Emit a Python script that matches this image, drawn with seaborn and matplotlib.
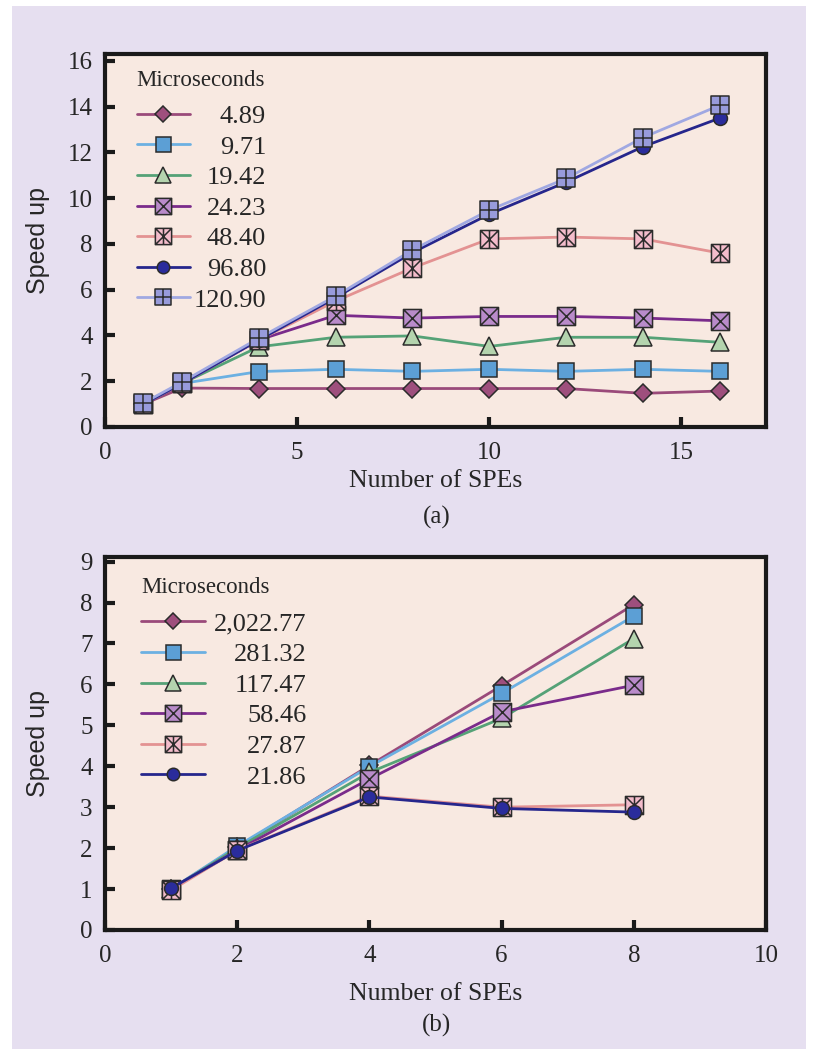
import matplotlib
matplotlib.use('Agg')
import matplotlib.pyplot as plt
import seaborn as sns
from matplotlib.path import Path
from matplotlib.patches import Rectangle

sns.set_theme(style='ticks')
plt.rcParams['font.family'] = ['Liberation Serif', 'DejaVu Serif']

# --- data ---
spe_a = [1, 2, 4, 6, 8, 10, 12, 14, 16]
labels_a = ['4.89', '9.71', '19.42', '24.23', '48.40', '96.80', '120.90']
speed_a = [
    [1.0, 1.7, 1.68, 1.68, 1.68, 1.68, 1.68, 1.47, 1.57],
    [1.0, 1.9, 2.42, 2.52, 2.43, 2.52, 2.43, 2.52, 2.43],
    [1.0, 1.9, 3.5, 3.92, 3.98, 3.52, 3.92, 3.92, 3.7],
    [1.0, 1.9, 3.8, 4.88, 4.76, 4.83, 4.83, 4.76, 4.64],
    [1.0, 1.9, 3.8, 5.5, 6.95, 8.22, 8.3, 8.22, 7.6],
    [1.0, 1.9, 3.8, 5.65, 7.62, 9.3, 10.7, 12.25, 13.5],
    [1.05, 1.96, 3.88, 5.72, 7.73, 9.48, 10.86, 12.65, 14.06],
]

spe_b = [1, 2, 4, 6, 8]
labels_b = ['2,022.77', '281.32', '117.47', '58.46', '27.87', '21.86']
speed_b = [
    [1.0, 2.02, 4.02, 5.97, 7.95],
    [1.0, 2.05, 3.99, 5.78, 7.67],
    [1.0, 2.0, 3.85, 5.17, 7.12],
    [1.0, 1.95, 3.69, 5.33, 5.98],
    [0.97, 1.95, 3.27, 3.0, 3.06],
    [1.02, 1.94, 3.25, 2.97, 2.88],
]


# square markers with inner strokes
def box_marker(*strokes):
    verts = [(-1, -1), (1, -1), (1, 1), (-1, 1), (-1, -1)]
    codes = [Path.MOVETO] + [Path.LINETO] * 3 + [Path.CLOSEPOLY]
    for a, b in strokes:
        verts += [a, b]
        codes += [Path.MOVETO, Path.LINETO]
    return Path(verts, codes)


sq_x = box_marker(((-1, -1), (1, 1)), ((-1, 1), (1, -1)))
sq_star = box_marker(((-1, -1), (1, 1)), ((-1, 1), (1, -1)), ((0, -1), (0, 1)))
sq_plus = box_marker(((-1, 0), (1, 0)), ((0, -1), (0, 1)))

# (line colour, fill colour, marker, size)
styles = [
    ('#9a4a7a', '#9e4f7d', 'D', 9.5),
    ('#6cb0e2', '#5c9fd5', 's', 12),
    ('#55a277', '#b4d4ae', '^', 13),
    ('#7a2b8b', '#b98bca', sq_x, 13),
    ('#e39292', '#f3bccb', sq_star, 13),
    ('#26268c', '#2a2c9c', 'o', 10),
    ('#a0a8e2', '#989bdb', sq_plus, 13),
]
styles_b = styles[:5] + [styles[5]]

fig = plt.figure(figsize=(8.16, 10.55), dpi=100)
fig.patch.set_facecolor('white')
fig.patches.append(Rectangle((12 / 816, 1 - 1049 / 1055), 794 / 816, 1043 / 1055,
                             transform=fig.transFigure, facecolor='#e6dff0',
                             edgecolor='none', zorder=-10))

ax_a = fig.add_axes([0.1287, 0.5953, 0.81, 0.3535])
ax_b = fig.add_axes([0.1287, 0.1185, 0.81, 0.3538])


def draw_panel(ax, x, series, labels, sty, xpad, hlen, hpad):
    for y, lab, (lc, fc, mk, ms) in zip(series, labels, sty):
        sns.lineplot(x=x, y=y, ax=ax, color=lc, linewidth=2.0, marker=mk,
                     markersize=ms, markerfacecolor=fc, markeredgecolor='#2b2b2b',
                     mew=1.1, label=lab)
    ax.set_facecolor('#f8e9e1')
    for s in ax.spines.values():
        s.set_linewidth(3)
        s.set_color('#1a1a1a')
    ax.tick_params(axis='both', direction='in', length=7, width=3,
                   labelsize=18, top=False, right=False, color='#1a1a1a')
    ax.tick_params(axis='y', pad=9)
    ax.tick_params(axis='x', pad=11)
    ax.set_xlabel('Number of SPEs', fontsize=18.5, labelpad=xpad)
    ax.set_ylabel('Speed up', fontsize=18, family='Liberation Sans')
    ax.yaxis.set_label_coords(-0.083, 0.5)

    leg = ax.legend(title='Microseconds', loc='upper left', frameon=False,
                    fontsize=19, title_fontsize=16.5, alignment='left',
                    borderpad=0, borderaxespad=0, labelspacing=0.27,
                    handlelength=hlen, handletextpad=hpad, markerscale=0.9)
    # a bit more room between the title and the entries
    leg._legend_box.sep = 10
    return leg


leg_a = draw_panel(ax_a, spe_a, speed_a, labels_a, styles, 4, 2.0, 0.15)
ax_a.set_xlim(0, 17.2)
ax_a.set_ylim(0, 16.3)
ax_a.set_xticks([0, 5, 10, 15])
ax_a.set_yticks(range(0, 17, 2))
leg_a.set_bbox_to_anchor((0.048, 0.958), transform=ax_a.transAxes)

leg_b = draw_panel(ax_b, spe_b, speed_b, labels_b, styles_b, 11, 2.4, 0.35)
ax_b.set_xlim(0, 10)
ax_b.set_ylim(0, 9.12)
ax_b.set_xticks(range(0, 11, 2))
ax_b.set_yticks(range(0, 10))
leg_b.set_bbox_to_anchor((0.055, 0.945), transform=ax_b.transAxes)

# right-align the legend numbers
renderer = fig.canvas.get_renderer()
for leg in (leg_a, leg_b):
    texts = leg.get_texts()
    widths = [t.get_window_extent(renderer).width for t in texts]
    for t, w in zip(texts, widths):
        t.set_position((max(widths) - w, 0))

fig.text(0.535, 1 - 517 / 1055, '(a)', ha='center', va='center', fontsize=18)
fig.text(0.535, 1 - 1025 / 1055, '(b)', ha='center', va='center', fontsize=18)

fig.savefig('out.png', dpi=100)
